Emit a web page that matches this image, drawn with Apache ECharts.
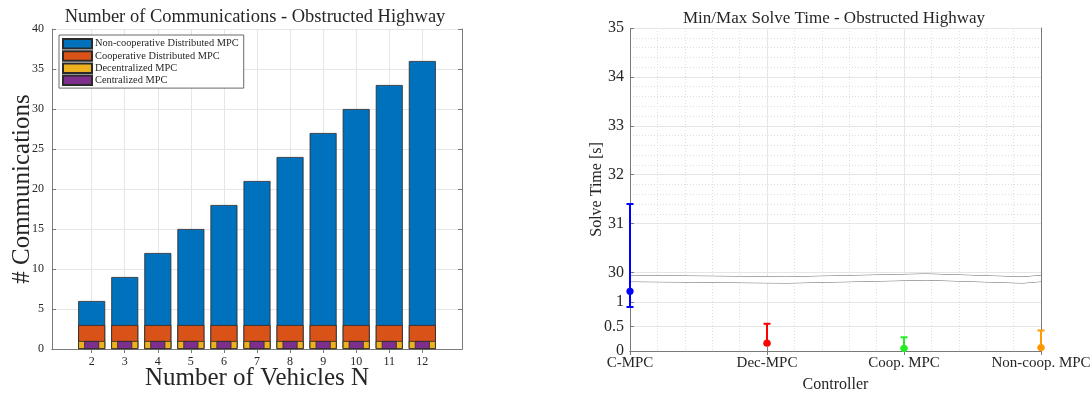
<!DOCTYPE html>
<html>
<head>
<meta charset="utf-8">
<script src="https://cdn.jsdelivr.net/npm/echarts@6/dist/echarts.min.js"></script>
<style>
  html, body { margin: 0; padding: 0; background: #fff; }
  #chart { width: 1091px; height: 394px; }
</style>
</head>
<body>
<div id="chart"></div>
<script>
// Communications per controller, by number of vehicles
const vehicles = [2, 3, 4, 5, 6, 7, 8, 9, 10, 11, 12];
const nonCoopComms = [6, 9, 12, 15, 18, 21, 24, 27, 30, 33, 36];
const coopComms = [3, 3, 3, 3, 3, 3, 3, 3, 3, 3, 3];
const decComms = [1, 1, 1, 1, 1, 1, 1, 1, 1, 1, 1];
const centComms = [1, 1, 1, 1, 1, 1, 1, 1, 1, 1, 1];

// Solve time range per controller (seconds)
const controllers = ['C-MPC', 'Dec-MPC', 'Coop. MPC', 'Non-coop. MPC'];
const solveMin = [0.9, 0.15, 0.05, 0.065];
const solveMid = [1.22, 0.16, 0.055, 0.07];
const solveMax = [31.4, 0.557, 0.28, 0.42];
const solveTicks = [0, 0.5, 1, 30, 31, 32, 33, 34, 35];

const ctrlColors = ['#0000ff', '#ff0000', '#22ee22', '#ff9900'];
const SERIF = '"Liberation Serif", "Times New Roman", serif';
const AXIS_COLOR = '#7a7a7a';
const TEXT_COLOR = '#262626';
const GRID_COLOR = '#e6e6e6';
const MINOR_COLOR = '#dedede';

const pair = (xs, ys) => xs.map((x, i) => [x, ys[i]]);

const barEdge = { borderColor: '#2a2a2a', borderWidth: 0.8 };

const chart = echarts.init(document.getElementById('chart'), null, { renderer: 'canvas' });

chart.setOption({
  animation: false,
  backgroundColor: '#fff',
  textStyle: { fontFamily: SERIF, color: TEXT_COLOR },
  title: [
    {
      text: 'Number of Communications - Obstructed Highway',
      left: 250, top: 3, textAlign: 'center',
      textStyle: { fontFamily: SERIF, fontSize: 18.5, fontWeight: 'normal', color: TEXT_COLOR }
    },
    {
      text: 'Min/Max Solve Time - Obstructed Highway',
      left: 829, top: 5, textAlign: 'center',
      textStyle: { fontFamily: SERIF, fontSize: 17, fontWeight: 'normal', color: TEXT_COLOR }
    }
  ],
  legend: {
    orient: 'vertical',
    left: 59, top: 35,
    padding: [3, 5, 2, 3],
    itemWidth: 29, itemHeight: 9.5, itemGap: 0.7,
    backgroundColor: '#fff',
    borderColor: '#6a6a6a', borderWidth: 1,
    icon: 'rect',
    textStyle: { fontFamily: SERIF, fontSize: 10.4, lineHeight: 10, color: TEXT_COLOR, padding: [0, 0, 0, -2] },
    data: ['Non-cooperative Distributed MPC', 'Cooperative Distributed MPC', 'Decentralized MPC', 'Centralized MPC']
  },
  grid: [
    { left: 52, top: 29, width: 410, height: 320, outerBoundsMode: 'none' },
    { left: 630, top: 28, width: 411, height: 323, outerBoundsMode: 'none' }
  ],
  xAxis: [
    {
      type: 'value', gridIndex: 0, position: 'bottom',
      min: 0.8, max: 13.2,
      name: 'Number of Vehicles N', nameLocation: 'middle', nameGap: 17, nameMoveOverlap: false,
      nameTextStyle: { fontFamily: SERIF, fontSize: 25, color: TEXT_COLOR },
      axisLine: { show: true, lineStyle: { color: AXIS_COLOR, width: 1 } },
      axisTick: { show: true, inside: true, length: 4, customValues: vehicles, lineStyle: { color: AXIS_COLOR } },
      axisLabel: { customValues: vehicles, fontFamily: SERIF, fontSize: 12, color: TEXT_COLOR, margin: 7 },
      splitLine: { show: true, lineStyle: { color: GRID_COLOR, width: 1 } }
    },
    {
      type: 'value', gridIndex: 0, position: 'top',
      min: 0.8, max: 13.2,
      axisLine: { show: true, lineStyle: { color: AXIS_COLOR, width: 1 } },
      axisTick: { show: true, inside: true, length: 4, customValues: vehicles, lineStyle: { color: AXIS_COLOR } },
      axisLabel: { show: false },
      splitLine: { show: false }
    },
    {
      type: 'value', gridIndex: 1, position: 'bottom',
      min: 1, max: 4, interval: 1,
      name: 'Controller', nameLocation: 'middle', nameGap: 26, nameMoveOverlap: false,
      nameTextStyle: { fontFamily: SERIF, fontSize: 16, color: TEXT_COLOR },
      axisLine: { show: true, lineStyle: { color: AXIS_COLOR, width: 1 } },
      axisTick: { show: true, inside: true, length: 4, lineStyle: { color: AXIS_COLOR } },
      axisLabel: {
        fontFamily: SERIF, fontSize: 15, color: TEXT_COLOR, margin: 5,
        formatter: v => controllers[Math.round(v) - 1] || ''
      },
      minorTick: { show: false, splitNumber: 5 },
      splitLine: { show: true, lineStyle: { color: GRID_COLOR, width: 1 } },
      minorSplitLine: { show: true, lineStyle: { color: MINOR_COLOR, width: 1, type: [1, 2] } }
    },
    {
      type: 'value', gridIndex: 1, position: 'top',
      min: 1, max: 4, interval: 1,
      axisLine: { show: true, lineStyle: { color: AXIS_COLOR, width: 1 } },
      axisTick: { show: true, inside: true, length: 4, lineStyle: { color: AXIS_COLOR } },
      axisLabel: { show: false },
      splitLine: { show: false }
    }
  ],
  yAxis: [
    {
      type: 'value', gridIndex: 0, position: 'left',
      min: 0, max: 40, interval: 5,
      name: '# Communications', nameLocation: 'middle', nameGap: 17, nameMoveOverlap: false,
      nameTextStyle: { fontFamily: SERIF, fontSize: 25, color: TEXT_COLOR },
      axisLine: { show: true, lineStyle: { color: AXIS_COLOR, width: 1 } },
      axisTick: { show: true, inside: true, length: 4, lineStyle: { color: AXIS_COLOR } },
      axisLabel: { fontFamily: SERIF, fontSize: 12, color: TEXT_COLOR, margin: 8 },
      splitLine: { show: true, lineStyle: { color: GRID_COLOR, width: 1 } }
    },
    {
      type: 'value', gridIndex: 0, position: 'right',
      min: 0, max: 40, interval: 5,
      axisLine: { show: true, lineStyle: { color: AXIS_COLOR, width: 1 } },
      axisTick: { show: true, inside: true, length: 4, lineStyle: { color: AXIS_COLOR } },
      axisLabel: { show: false },
      splitLine: { show: false }
    },
    {
      type: 'value', gridIndex: 1, position: 'left',
      min: 0, max: 35,
      breaks: [{ start: 1.43, end: 29.95, gap: '1.9%' }],
      breakArea: {
        show: true, expandOnClick: false,
        zigzagAmplitude: 1.5, zigzagMinSpan: 90, zigzagMaxSpan: 160, zigzagZ: 1,
        itemStyle: { color: '#fff', borderColor: '#666', borderWidth: 1, borderType: 'solid', opacity: 1 }
      },
      name: 'Solve Time [s]', nameLocation: 'middle', nameGap: 25, nameMoveOverlap: false,
      nameTextStyle: { fontFamily: SERIF, fontSize: 16, color: TEXT_COLOR },
      axisLine: { show: true, lineStyle: { color: AXIS_COLOR, width: 1 } },
      axisTick: { show: true, inside: true, length: 4, customValues: solveTicks, lineStyle: { color: AXIS_COLOR } },
      axisLabel: { customValues: solveTicks, fontFamily: SERIF, fontSize: 16, color: TEXT_COLOR, margin: 6 },
      minorTick: { show: false, splitNumber: 5 },
      splitLine: { show: true, lineStyle: { color: GRID_COLOR, width: 1 } },
      minorSplitLine: { show: true, lineStyle: { color: MINOR_COLOR, width: 1, type: [1, 2] } }
    },
    {
      type: 'value', gridIndex: 1, position: 'right',
      min: 0, max: 35,
      axisLine: { show: true, lineStyle: { color: AXIS_COLOR, width: 1 } },
      axisTick: { show: false },
      axisLabel: { show: false },
      splitLine: { show: false }
    }
  ],
  series: [
    {
      name: 'Non-cooperative Distributed MPC', type: 'bar',
      xAxisIndex: 0, yAxisIndex: 0,
      barWidth: 27, barGap: '-100%',
      itemStyle: Object.assign({ color: '#0072bd' }, barEdge),
      data: pair(vehicles, nonCoopComms)
    },
    {
      name: 'Cooperative Distributed MPC', type: 'bar',
      xAxisIndex: 0, yAxisIndex: 0,
      barWidth: 27, barGap: '-100%',
      itemStyle: Object.assign({ color: '#d95319' }, barEdge),
      data: pair(vehicles, coopComms)
    },
    {
      name: 'Decentralized MPC', type: 'bar',
      xAxisIndex: 0, yAxisIndex: 0,
      barWidth: 27, barGap: '-100%',
      itemStyle: Object.assign({ color: '#edb120' }, barEdge),
      data: pair(vehicles, decComms)
    },
    {
      name: 'Centralized MPC', type: 'bar',
      xAxisIndex: 1, yAxisIndex: 0,
      barWidth: 15,
      itemStyle: Object.assign({ color: '#7e2f8e' }, barEdge),
      data: pair(vehicles, centComms)
    },
    {
      name: 'Solve time range', type: 'custom',
      xAxisIndex: 2, yAxisIndex: 2, z: 5,
      data: controllers.map((c, i) => [i + 1, solveMin[i], solveMid[i], solveMax[i]]),
      encode: { x: 0, y: [1, 2, 3] },
      renderItem: function (params, api) {
        const x = api.value(0);
        const lo = api.coord([x, api.value(1)]);
        const mid = api.coord([x, api.value(2)]);
        const hi = api.coord([x, api.value(3)]);
        const color = ctrlColors[params.dataIndex];
        const cap = 3.5;
        const stroke = { stroke: color, lineWidth: 2 };
        return {
          type: 'group',
          children: [
            { type: 'line', shape: { x1: hi[0], y1: hi[1], x2: lo[0], y2: lo[1] }, style: stroke },
            { type: 'line', shape: { x1: hi[0] - cap, y1: hi[1], x2: hi[0] + cap, y2: hi[1] }, style: stroke },
            { type: 'line', shape: { x1: lo[0] - cap, y1: lo[1], x2: lo[0] + cap, y2: lo[1] }, style: stroke },
            { type: 'circle', shape: { cx: mid[0], cy: mid[1], r: 3.6 }, style: { fill: color } }
          ]
        };
      }
    }
  ]
});
</script>
</body>
</html>
